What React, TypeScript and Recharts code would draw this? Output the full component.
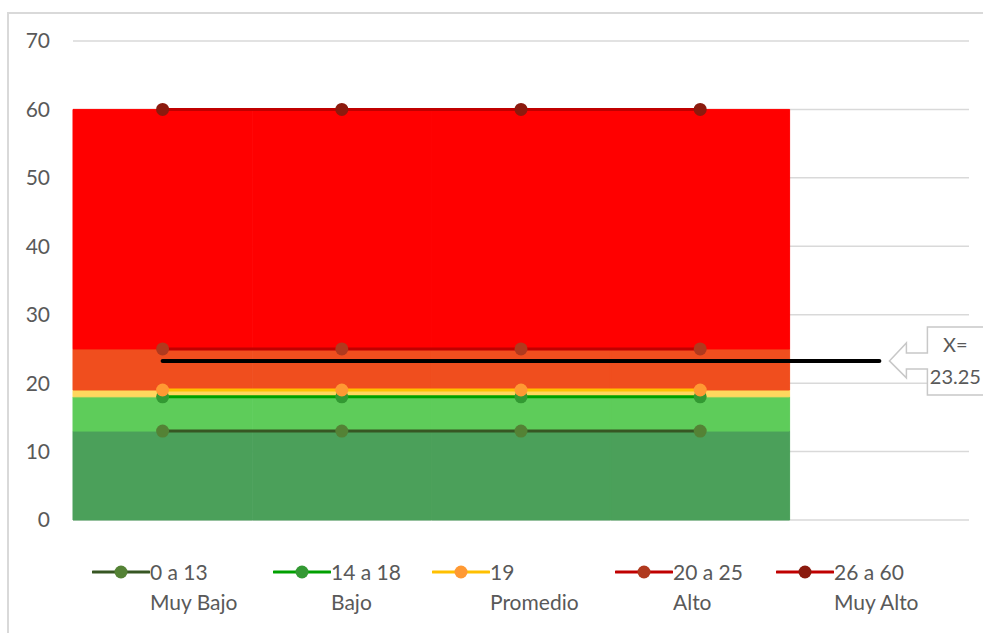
import React from 'react';
import { ComposedChart, Bar, Line, XAxis, YAxis, CartesianGrid, ReferenceDot } from 'recharts';

const categories = ['c1', 'c2', 'c3', 'c4', 'c5'];

// stacked band heights (0-13, 13-18, 18-19, 19-25, 25-60)
const bandMuyBajo = [13, 13, 13, 13, null];
const bandBajo = [5, 5, 5, 5, null];
const bandPromedio = [1, 1, 1, 1, null];
const bandAlto = [6, 6, 6, 6, null];
const bandMuyAlto = [35, 35, 35, 35, null];

// threshold lines
const lineMuyBajo = [13, 13, 13, 13, null];
const lineBajo = [18, 18, 18, 18, null];
const linePromedio = [19, 19, 19, 19, null];
const lineAlto = [25, 25, 25, 25, null];
const lineMuyAlto = [60, 60, 60, 60, null];

// score line
const xScore = [23.25, 23.25, 23.25, 23.25, 23.25];

const yTicks = [0, 10, 20, 30, 40, 50, 60, 70];
const legendRange = ['0 a 13', '14 a 18', '19', '20 a 25', '26 a 60'];
const legendName = ['Muy Bajo', 'Bajo', 'Promedio', 'Alto', 'Muy Alto'];

const FONT = 'Lato, "Open Sans", sans-serif';
const TEXT = '#595959';

const bands = [
  { key: 'b0', fill: '#4ba05a' },
  { key: 'b1', fill: '#5ecc5a' },
  { key: 'b2', fill: '#ffd75e' },
  { key: 'b3', fill: '#f04e1e' },
  { key: 'b4', fill: '#ff0000' },
];

const series = [
  { key: 'l0', line: '#375623', dot: '#548235', legendX: 92 },
  { key: 'l1', line: '#00a000', dot: '#339933', legendX: 273 },
  { key: 'l2', line: '#ffc000', dot: '#ff9933', legendX: 432 },
  { key: 'l3', line: '#c00000', dot: '#b0391e', legendX: 615 },
  { key: 'l4', line: '#c00000', dot: '#8b1a0e', legendX: 776 },
];

const data = categories.map((c, i) => ({
  cat: c,
  b0: bandMuyBajo[i],
  b1: bandBajo[i],
  b2: bandPromedio[i],
  b3: bandAlto[i],
  b4: bandMuyAlto[i],
  l0: lineMuyBajo[i],
  l1: lineBajo[i],
  l2: linePromedio[i],
  l3: lineAlto[i],
  l4: lineMuyAlto[i],
  x: xScore[i],
}));

const Callout = (props: any) => {
  const { cx, cy } = props;
  const t = cx + 10;
  const d = `M ${t} ${cy} L ${t + 17} ${cy - 18} L ${t + 17} ${cy - 8} L ${t + 38} ${cy - 8} L ${t + 38} ${cy - 34} L ${t + 112} ${cy - 34} L ${t + 112} ${cy + 34} L ${t + 38} ${cy + 34} L ${t + 38} ${cy + 8} L ${t + 17} ${cy + 8} L ${t + 17} ${cy + 17} Z`;
  return (
    <g>
      <path d={d} fill="#fff" stroke="#c8c8c8" strokeWidth={1.5} />
      <text x={t + 66} y={cy - 14} textAnchor="middle" fontFamily={FONT} fontSize={20} fill={TEXT} dominantBaseline="middle">X=</text>
      <text x={t + 66} y={cy + 18} textAnchor="middle" fontFamily={FONT} fontSize={20} fill={TEXT} dominantBaseline="middle">23.25</text>
    </g>
  );
};

export default function App() {
  return (
    <div style={{ position: 'fixed', left: 0, top: 0, width: 983, height: 633, overflow: 'hidden', background: '#fff', fontFamily: FONT }}>
      <div style={{ position: 'absolute', left: 0, top: 0 }}>
        <ComposedChart width={983} height={560} data={data} margin={{ top: 41, right: 14, bottom: 40, left: 0 }} barCategoryGap={0} barGap={0}>
          <CartesianGrid vertical={false} stroke="#d9d9d9" strokeWidth={1.5} />
          <XAxis dataKey="cat" tick={false} tickLine={false} height={0} axisLine={{ stroke: '#d9d9d9', strokeWidth: 1.5 }} />
          <YAxis domain={[0, 70]} ticks={yTicks} width={73} axisLine={false} tickLine={false} tickSize={0} tickMargin={23}
            tick={{ fill: TEXT, fontSize: 21, fontFamily: FONT }} interval={0} />
          {bands.map((b) => (
            <Bar key={b.key} dataKey={b.key} stackId="band" fill={b.fill} stroke={b.fill} strokeWidth={1} isAnimationActive={false} />
          ))}
          {series.map((s) => (
            <Line key={s.key} dataKey={s.key} stroke={s.line} strokeWidth={3} isAnimationActive={false} activeDot={false}
              dot={{ r: 6.5, fill: s.dot, stroke: s.dot, strokeWidth: 0 }} />
          ))}
          <Line dataKey="x" stroke="#000" strokeWidth={4} strokeLinecap="round" dot={false} activeDot={false} isAnimationActive={false} />
          <ReferenceDot x="c5" y={23.25} r={0} shape={Callout} ifOverflow="visible" />
        </ComposedChart>
      </div>
      {/* chart frame: only its top and left edges fall inside the picture */}
      <div style={{ position: 'absolute', left: 7, top: 12, width: 976, height: 2, background: '#d9d9d9' }} />
      <div style={{ position: 'absolute', left: 7, top: 12, width: 2, height: 621, background: '#d9d9d9' }} />
      {series.map((s, i) => (
        <div key={s.key}>
          <svg style={{ position: 'absolute', left: s.legendX, top: 562 }} width={58} height={20}>
            <line x1={1} y1={10} x2={57} y2={10} stroke={s.line} strokeWidth={3} strokeLinecap="round" />
            <circle cx={29} cy={10} r={6.5} fill={s.dot} />
          </svg>
          <div style={{ position: 'absolute', left: s.legendX + 58, top: 557, fontSize: 21, color: TEXT, lineHeight: '30px', whiteSpace: 'nowrap' }}>
            {legendRange[i]}
            <br />
            {legendName[i]}
          </div>
        </div>
      ))}
    </div>
  );
}
